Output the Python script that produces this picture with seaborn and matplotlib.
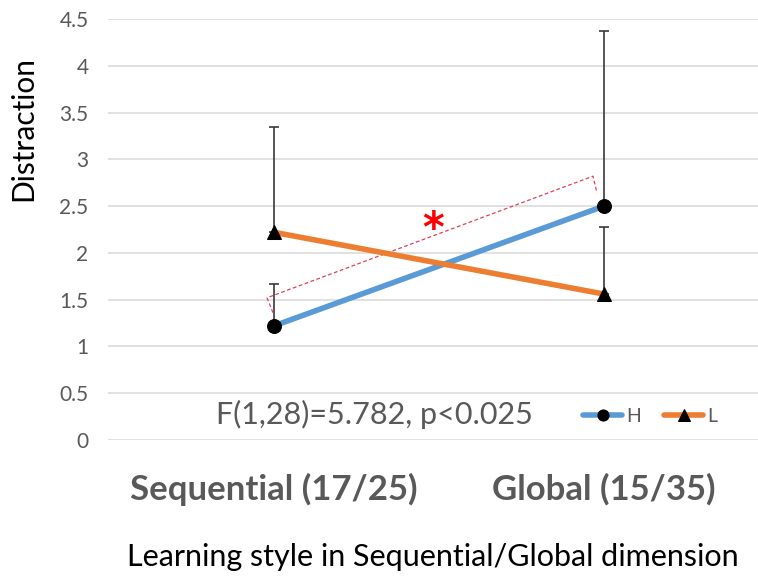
import matplotlib
matplotlib.use("Agg")
import matplotlib.pyplot as plt
import pandas as pd
import seaborn as sns

# ── Data ──────────────────────────────────────────────────────────────────────
styles = ["Sequential (17/25)", "Global (15/35)"]
h_mean = [1.22, 2.50]
h_err = [0.45, 1.87]
l_mean = [2.22, 1.56]
l_err = [1.13, 0.72]
y_ticks = [0, 0.5, 1, 1.5, 2, 2.5, 3, 3.5, 4, 4.5]
stat_text = "F(1,28)=5.782, p<0.025"
# dashed significance bracket (x in category units, y in data units)
bracket_x = [-0.003, -0.021, 0.967, 0.979]
bracket_y = [1.36, 1.52, 2.82, 2.64]

sns.set_style("white")
plt.rcParams["font.family"] = ["Lato", "DejaVu Sans"]

GREY = "#595959"
BLUE = "#5B9BD5"
ORANGE = "#ED7D31"

df = pd.DataFrame({
    "style": styles * 2,
    "value": h_mean + l_mean,
    "group": ["H"] * 2 + ["L"] * 2,
})

W, H = 758, 579
fig = plt.figure(figsize=(W / 100, H / 100), dpi=100)
ax = fig.add_axes([108 / W, 139 / H, 650 / W, 421 / H])

sns.lineplot(data=df, x="style", y="value", hue="group", style="group",
             markers={"H": "o", "L": "^"}, dashes=False,
             palette={"H": BLUE, "L": ORANGE}, linewidth=4, markersize=10,
             markerfacecolor="black", markeredgecolor="black",
             legend=False, ax=ax, zorder=3)
line_h, line_l = ax.lines[0], ax.lines[1]

# upper-only error bars
for mean, err in [(h_mean, h_err), (l_mean, l_err)]:
    ax.errorbar(styles, mean, yerr=[[0] * len(err), err], fmt="none",
                ecolor="#3a3a3a", elinewidth=1.2, capsize=3.5, capthick=1.2,
                zorder=2)

ax.plot(bracket_x, bracket_y, color="#E0405A", linestyle=(0, (3, 2)),
        linewidth=0.9, zorder=2.5)
ax.text(0.482, 2.24, "*", color="red", fontsize=30, fontweight="bold",
        ha="center", va="center", family="DejaVu Sans")
ax.text(0.303, 0.27, stat_text, color=GREY, fontsize=22,
        ha="center", va="center")

ax.set_xlim(-0.503, 1.467)
ax.set_ylim(0, 4.5)
ax.set_yticks(y_ticks)
ax.set_yticklabels([f"{t:g}" for t in y_ticks])
ax.yaxis.grid(True, color="#D9D9D9", linewidth=1.1)
ax.set_axisbelow(True)
sns.despine(ax=ax, left=True, bottom=True)
ax.tick_params(axis="both", length=0)
ax.tick_params(axis="y", labelsize=15, labelcolor=GREY, pad=14)
ax.tick_params(axis="x", labelsize=25, labelcolor=GREY, pad=24)
for lbl in ax.get_xticklabels():
    lbl.set_fontweight("bold")

ax.set_xlabel("Learning style in Sequential/Global dimension",
              fontsize=22, color="black", labelpad=26)
ax.set_ylabel("Distraction", fontsize=21.5, color="black")
ax.yaxis.set_label_coords(-0.109, 0.741)

ax.legend(handles=[line_h, line_l], labels=["H", "L"], ncol=2,
          frameon=False, loc="center", bbox_to_anchor=(0.834, 0.057),
          fontsize=14, labelcolor=GREY, handlelength=2.0,
          handletextpad=0.2, columnspacing=1.2, markerscale=0.8)

fig.savefig("out.png", dpi=100)
